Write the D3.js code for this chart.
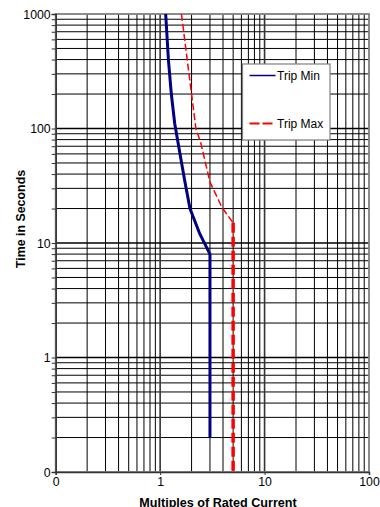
<!DOCTYPE html>
<html>
<head>
<meta charset="utf-8">
<script src="https://cdn.jsdelivr.net/npm/d3@7"></script>
<style>
	body { margin: 0; background: #fff; }
	text { font-family: "Liberation Sans", Arial, sans-serif; fill: #000; }
</style>
</head>
<body>
<div id="chart"></div>
<script>
// curve values: [multiple of rated current, seconds]
var tripMin = [[1.13, 1000], [1.2, 400], [1.28, 200], [1.38, 110], [1.55, 60], [1.72, 35],
	[1.93, 20], [2.4, 12], [3, 8], [3, 0.2]];
var tripMax = [[1.6, 1000], [2.2, 100], [2.45, 75], [3, 34], [3.6, 24], [3.9, 20.5], [5, 15]];
var tripMaxFlat = [[5, 15], [5, 0.1]];

var xTicks = [0.1, 1, 10, 100];
var xTickLabels = ["0", "1", "10", "100"];
var yTicks = [0.1, 1, 10, 100, 1000];
var yTickLabels = ["0", "1", "10", "100", "1000"];

var width = 380, height = 507;
// "top" is taken by window.top, so prefix the plot edges
var pLeft = 55.7, pRight = 369, pTop = 14, pBottom = 472;

var svg = d3.select("#chart").append("svg")
	.attr("width", width)
	.attr("height", height);

var x = d3.scaleLog().domain([0.1, 100]).range([pLeft, pRight]);
var y = d3.scaleLog().domain([0.1, 1000]).range([pBottom, pTop]);

// minor grid values, 2..9 per decade
function minors(lo, hi) {
	var out = [];
	for (var d = lo; d < hi; d *= 10) {
		for (var k = 2; k <= 9; k++) out.push(+(d * k).toPrecision(3));
	}
	return out;
}

var grid = svg.append("g");
grid.selectAll("line.vx")
	.data(minors(0.1, 100)).enter().append("line")
	.attr("x1", function (d) { return x(d); })
	.attr("x2", function (d) { return x(d); })
	.attr("y1", pTop).attr("y2", pBottom)
	.attr("stroke", "#000").attr("stroke-width", 1);
grid.selectAll("line.hy")
	.data(minors(0.1, 1000)).enter().append("line")
	.attr("y1", function (d) { return y(d); })
	.attr("y2", function (d) { return y(d); })
	.attr("x1", pLeft).attr("x2", pRight)
	.attr("stroke", "#000").attr("stroke-width", 1);
// decade lines a bit heavier
grid.selectAll("line.mx")
	.data([1, 10]).enter().append("line")
	.attr("x1", function (d) { return x(d); })
	.attr("x2", function (d) { return x(d); })
	.attr("y1", pTop).attr("y2", pBottom)
	.attr("stroke", "#333").attr("stroke-width", 1.6);
grid.selectAll("line.my")
	.data([1, 10, 100]).enter().append("line")
	.attr("y1", function (d) { return y(d); })
	.attr("y2", function (d) { return y(d); })
	.attr("x1", pLeft).attr("x2", pRight)
	.attr("stroke", "#000").attr("stroke-width", 1.6);

// plot frame
svg.append("rect")
	.attr("x", pLeft).attr("y", pTop)
	.attr("width", pRight - pLeft).attr("height", pBottom - pTop)
	.attr("fill", "none")
	.attr("stroke", "#808080")
	.attr("stroke-width", 1.8);

// axes
var yAxis = d3.axisLeft(y)
	.tickValues(minors(0.1, 1000).concat(yTicks))
	.tickSize(4)
	.tickFormat(function (d) {
		var i = yTicks.indexOf(d);
		return i >= 0 ? yTickLabels[i] : "";
	});
var gy = svg.append("g")
	.attr("transform", "translate(" + pLeft + ",0)")
	.call(yAxis);
gy.select(".domain").attr("stroke", "#333").attr("stroke-width", 1.5);
gy.selectAll(".tick line").attr("stroke", "#333");
gy.selectAll(".tick text").attr("font-size", 12.3).attr("x", -5).attr("dy", "0.36em");

var xAxis = d3.axisBottom(x)
	.tickValues(xTicks)
	.tickSize(3)
	.tickFormat(function (d, i) { return xTickLabels[i]; });
var gx = svg.append("g")
	.attr("transform", "translate(0," + pBottom + ")")
	.call(xAxis);
gx.select(".domain").attr("stroke", "#333").attr("stroke-width", 1.5);
gx.selectAll(".tick line").attr("stroke", "#333");
gx.selectAll(".tick text").attr("font-size", 12.3).attr("y", 5);

// curves
var line = d3.line()
	.x(function (d) { return x(d[0]); })
	.y(function (d) { return y(d[1]); });

svg.append("path")
	.datum(tripMax)
	.attr("d", line)
	.attr("fill", "none")
	.attr("stroke", "#ff0000")
	.attr("stroke-width", 1.5)
	.attr("stroke-dasharray", "7,3");
svg.append("path")
	.datum(tripMaxFlat)
	.attr("d", line)
	.attr("fill", "none")
	.attr("stroke", "#ff0000")
	.attr("stroke-width", 3.5)
	.attr("stroke-dasharray", "10,4");
svg.append("path")
	.datum(tripMin)
	.attr("d", line)
	.attr("fill", "none")
	.attr("stroke", "#000080")
	.attr("stroke-width", 3)
	.attr("stroke-linejoin", "round");

// legend
var legend = svg.append("g").attr("transform", "translate(242.5,64)");
legend.append("rect")
	.attr("width", 87.5).attr("height", 76)
	.attr("fill", "#fff")
	.attr("stroke", "#808080")
	.attr("stroke-width", 1.2);
legend.append("line")
	.attr("x1", 7).attr("x2", 33).attr("y1", 11.5).attr("y2", 11.5)
	.attr("stroke", "#000080").attr("stroke-width", 1.5);
legend.append("text")
	.attr("x", 34.5).attr("y", 11.5).attr("dy", "0.36em")
	.attr("font-size", 12).text("Trip Min");
legend.append("line")
	.attr("x1", 7).attr("x2", 33).attr("y1", 59.5).attr("y2", 59.5)
	.attr("stroke", "#ff0000").attr("stroke-width", 2)
	.attr("stroke-dasharray", "10,3");
legend.append("text")
	.attr("x", 34.5).attr("y", 59.5).attr("dy", "0.36em")
	.attr("font-size", 12).text("Trip Max");

// axis titles
svg.append("text")
	.attr("transform", "translate(25,219) rotate(-90)")
	.attr("text-anchor", "middle")
	.attr("font-size", 12.4).attr("font-weight", "bold")
	.text("Time in Seconds");
svg.append("text")
	.attr("x", 218).attr("y", 506.5)
	.attr("text-anchor", "middle")
	.attr("font-size", 12.6).attr("font-weight", "bold")
	.text("Multiples of Rated Current");
</script>
</body>
</html>
